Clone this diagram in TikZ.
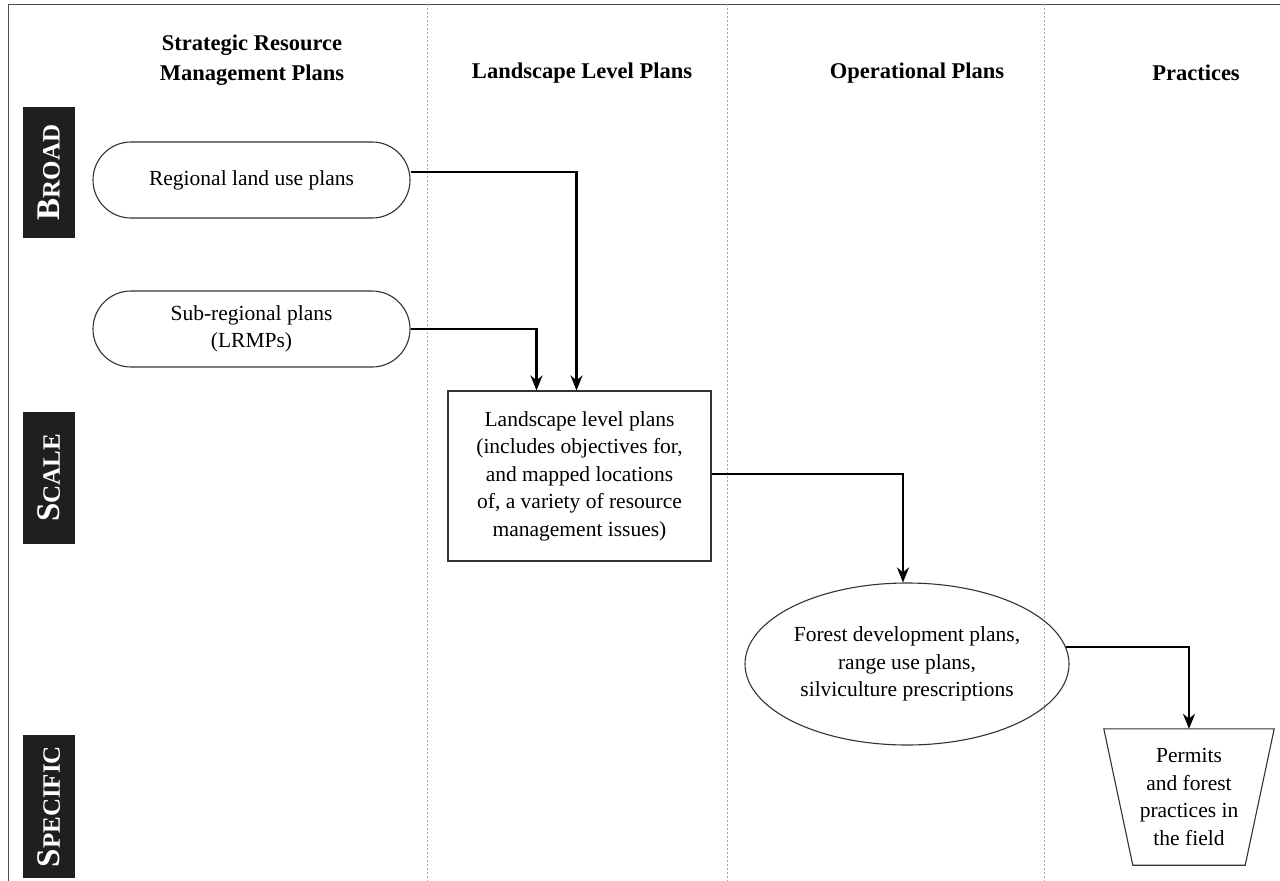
\documentclass[tikz,border=0pt]{standalone}
\usepackage{fontspec}
\setmainfont{Liberation Serif}
\usetikzlibrary{positioning,arrows.meta,shapes.geometric}

\begin{document}
\begin{tikzpicture}[x=1pt,y=-1pt,>={Stealth[length=15pt,width=12pt]},
  box/.style={draw=black!80,line width=1.1pt,fill=white,align=center,font=\fontsize{21.5}{27.5}\selectfont},
  txt/.style={align=center,font=\fontsize{21.5}{27.5}\selectfont},
  head/.style={align=center,font=\fontsize{22.5}{30}\selectfont\bfseries},
  side/.style={fill=black!88,text=white,rotate=90,minimum height=52pt,inner sep=0pt,font=\bfseries},
  flow/.style={->,line width=2.4pt}]
\useasboundingbox (0,0) rectangle (1280,881);

% frame and column separators
\draw[black!70,line width=1pt] (1280,4) -- (8,4) -- (8,881);
\foreach \x in {427,727,1044}
  \draw[black!35,line width=1pt,dash pattern=on 2pt off 2pt] (\x,4) -- (\x,881);

% column heads
\node[head] (h1) at (252,60) {Strategic Resource\\Management Plans};
\node[head] (h2) at (582,73) {Landscape Level Plans};
\node[head] (h3) at (917,73) {Operational Plans};
\node[head] (h4) at (1196,73) {Practices};

% scale bar
\node[side,minimum width=131pt] (b1) at (49,172.5) {\fontsize{33}{33}\selectfont B\fontsize{25}{25}\selectfont ROAD};
\node[side,minimum width=132pt] (b2) at (49,478) {\fontsize{33}{33}\selectfont S\fontsize{25}{25}\selectfont CALE};
\node[side,minimum width=143pt] (b3) at (49,806.5) {\fontsize{33}{33}\selectfont S\fontsize{25}{25}\selectfont PECIFIC};

% plans
\node[box,rounded corners=38pt,minimum width=317pt,minimum height=76pt] (r1) at (251.5,180) {Regional land use plans};
\node[box,rounded corners=38pt,minimum width=317pt,minimum height=76pt] (r2) at (251.5,329) {Sub-regional plans\\(LRMPs)};
\node[box,minimum width=263pt,minimum height=170pt] (l1) at (579.5,476)
  {Landscape level plans\\(includes objectives for,\\and mapped locations\\of, a variety of resource\\management issues)};
\node[draw=black!80,line width=1.1pt,ellipse,minimum width=324pt,minimum height=162pt,inner sep=0pt,
  label={[txt]center:Forest development plans,\\range use plans,\\silviculture prescriptions}] (o1) at (907,664) {};
\node[txt,minimum width=170pt,minimum height=136pt,inner sep=0pt] (p1) at (1189,797) {Permits\\and forest\\practices in\\the field};
\draw[black!80,line width=1.1pt] (p1.north west) -- (p1.north east) -- ([xshift=-29pt]p1.south east)
  -- ([xshift=29pt]p1.south west) -- cycle;

% connectors
\draw[flow] ([yshift=8pt]r1.east) -| ([xshift=-3pt]l1.north);
\draw[flow] (r2.east) -| ([xshift=-43pt]l1.north);
\draw[flow] ([yshift=2pt]l1.east) -| ([xshift=-4pt]o1.north);
\draw[flow] (o1.6) -| (p1.north);
\end{tikzpicture}
\end{document}
